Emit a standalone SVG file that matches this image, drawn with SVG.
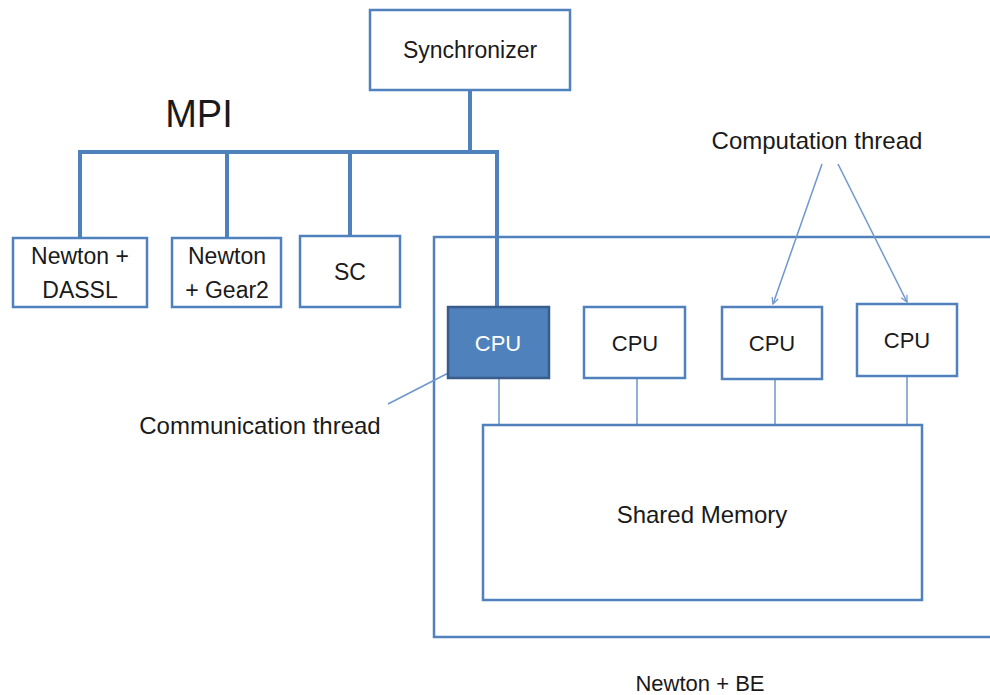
<svg xmlns="http://www.w3.org/2000/svg" width="990" height="695" viewBox="0 0 990 695">
<style>
  .box{fill:#fff;stroke:#4f81bd;stroke-width:2.5}
  .t{font-family:"Liberation Sans","Open Sans",Arial,sans-serif;font-size:23px;fill:#1a1a1a;text-anchor:middle}
  .cpu{font-size:22px}
  .bus{fill:none;stroke:#4f81bd;stroke-width:4;stroke-linejoin:miter}
  .thin{fill:none;stroke:#6e97cc;stroke-width:1.5}
</style>
<defs>
  <marker id="ah" viewBox="0 0 10 10" refX="9" refY="5" markerWidth="8" markerHeight="8" orient="auto" markerUnits="userSpaceOnUse">
    <path d="M1,1 L9,5 L1,9" fill="none" stroke="#6e97cc" stroke-width="1.5"/>
  </marker>
</defs>
<rect width="990" height="695" fill="#fff"/>

<g id="newton-be">
  <rect class="box" x="434" y="237" width="600" height="400"/>
  <text class="t" x="700" y="691" style="font-size:22px">Newton + BE</text>
</g>

<g id="connectors">
  <path class="bus" d="M470,90 V152"/>
  <path class="bus" d="M80,237 V152 H497 V308"/>
  <path class="bus" d="M227,152 V238"/>
  <path class="bus" d="M350,152 V235"/>
  <path class="thin" d="M499,378 V425 M637,378 V425 M775,378 V425 M907,376 V425"/>
  <path class="thin" d="M822,164 L773,304" marker-end="url(#ah)"/>
  <path class="thin" d="M838,164 L907,302" marker-end="url(#ah)"/>
  <path class="thin" d="M388,404 L460,367"/>
</g>

<g id="synchronizer">
  <rect class="box" x="370" y="10" width="200" height="80"/>
  <text class="t" x="470" y="58">Synchronizer</text>
</g>

<g id="mpi-label">
  <text class="t" x="199" y="127" style="font-size:38px">MPI</text>
</g>

<g id="newton-dassl">
  <rect class="box" x="13" y="238" width="134" height="69"/>
  <text class="t" x="80" y="264">Newton +</text>
  <text class="t" x="80" y="298">DASSL</text>
</g>

<g id="newton-gear2">
  <rect class="box" x="172" y="238" width="109" height="69"/>
  <text class="t" x="227" y="264">Newton</text>
  <text class="t" x="227" y="298">+ Gear2</text>
</g>

<g id="sc">
  <rect class="box" x="300" y="236" width="100" height="71"/>
  <text class="t" x="350" y="280">SC</text>
</g>

<g id="cpu1">
  <rect x="448" y="307" width="101" height="71" fill="#4f81bd" stroke="#385d8a" stroke-width="2.5"/>
  <text class="t cpu" x="498" y="351" style="fill:#fff">CPU</text>
</g>

<g id="cpu2">
  <rect class="box" x="584" y="307" width="101" height="71"/>
  <text class="t cpu" x="635" y="351">CPU</text>
</g>

<g id="cpu3">
  <rect class="box" x="722" y="307" width="100" height="72"/>
  <text class="t cpu" x="772" y="351">CPU</text>
</g>

<g id="cpu4">
  <rect class="box" x="857" y="304" width="100" height="72"/>
  <text class="t cpu" x="907" y="348">CPU</text>
</g>

<g id="shared-memory">
  <rect class="box" x="483" y="425" width="439" height="175"/>
  <text class="t" x="702" y="523" style="font-size:24px">Shared Memory</text>
</g>

<g id="computation-thread">
  <text class="t" x="817" y="149" style="font-size:24px">Computation thread</text>
</g>

<g id="communication-thread">
  <text class="t" x="260" y="434" style="font-size:24px">Communication thread</text>
</g>
</svg>
